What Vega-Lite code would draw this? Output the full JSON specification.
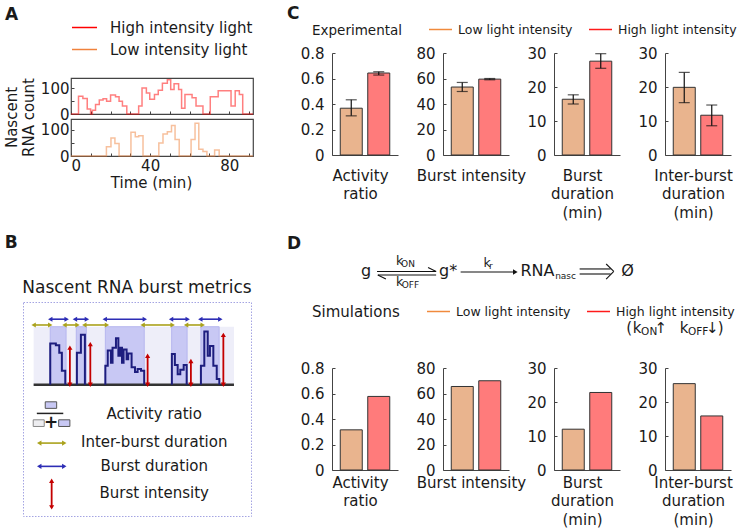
{
  "$schema": "https://vega.github.io/schema/vega-lite/v6.json",
  "background": "white",
  "padding": {"left": 3, "top": 5, "right": 2, "bottom": 2},
  "config": {
    "font": "DejaVu Sans",
    "view": {"stroke": null},
    "axis": {"labelFont": "DejaVu Sans", "labelFontSize": 15, "labelColor": "#1a1a1a", "titleFont": "DejaVu Sans", "titleFontSize": 15, "titleFontWeight": "normal", "titleColor": "#1a1a1a", "grid": false, "domainColor": "#444", "tickColor": "#444", "labelOverlap": false},
    "legend": {"labelFont": "DejaVu Sans", "labelColor": "#1a1a1a"},
    "title": {"font": "DejaVu Sans", "color": "#1a1a1a"},
    "text": {"font": "DejaVu Sans", "color": "#1a1a1a"}
  },
  "datasets": {
    "aHigh": [
      {"t": 0, "n": 0, "light": "High intensity light"}, {"t": 3.8, "n": 69, "light": "High intensity light"}, {"t": 6, "n": 60, "light": "High intensity light"}, {"t": 8.2, "n": 19, "light": "High intensity light"}, {"t": 9.9, "n": 0, "light": "High intensity light"}, {"t": 10.8, "n": 15, "light": "High intensity light"}, {"t": 12.4, "n": 37, "light": "High intensity light"}, {"t": 14.3, "n": 54, "light": "High intensity light"}, {"t": 16.2, "n": 59, "light": "High intensity light"}, {"t": 18, "n": 50, "light": "High intensity light"}, {"t": 20, "n": 74, "light": "High intensity light"}, {"t": 22.5, "n": 67, "light": "High intensity light"}, {"t": 24.3, "n": 50, "light": "High intensity light"}, {"t": 26, "n": 31, "light": "High intensity light"}, {"t": 28.2, "n": 0, "light": "High intensity light"}, {"t": 34.2, "n": 31, "light": "High intensity light"}, {"t": 35.9, "n": 101, "light": "High intensity light"}, {"t": 38.1, "n": 82, "light": "High intensity light"}, {"t": 39.8, "n": 57, "light": "High intensity light"}, {"t": 42.2, "n": 76, "light": "High intensity light"}, {"t": 44.1, "n": 92, "light": "High intensity light"}, {"t": 46.2, "n": 120, "light": "High intensity light"}, {"t": 48.7, "n": 133, "light": "High intensity light"}, {"t": 50.4, "n": 95, "light": "High intensity light"}, {"t": 52.1, "n": 118, "light": "High intensity light"}, {"t": 54.4, "n": 95, "light": "High intensity light"}, {"t": 55.9, "n": 22, "light": "High intensity light"}, {"t": 57.6, "n": 76, "light": "High intensity light"}, {"t": 61.2, "n": 63, "light": "High intensity light"}, {"t": 63.2, "n": 31, "light": "High intensity light"}, {"t": 66.7, "n": 0, "light": "High intensity light"}, {"t": 70.4, "n": 67, "light": "High intensity light"}, {"t": 74.4, "n": 90, "light": "High intensity light"}, {"t": 80.9, "n": 31, "light": "High intensity light"}, {"t": 83, "n": 90, "light": "High intensity light"}, {"t": 85.1, "n": 76, "light": "High intensity light"}, {"t": 86.8, "n": 0, "light": "High intensity light"}, {"t": 92, "n": 0, "light": "High intensity light"}
    ],
    "aLow": [
      {"t": 0, "n": 0, "light": "Low intensity light"}, {"t": 17.9, "n": 35, "light": "Low intensity light"}, {"t": 20.2, "n": 68, "light": "Low intensity light"}, {"t": 22.2, "n": 47, "light": "Low intensity light"}, {"t": 24.3, "n": 0, "light": "Low intensity light"}, {"t": 30.3, "n": 90, "light": "Low intensity light"}, {"t": 32.5, "n": 73, "light": "Low intensity light"}, {"t": 34.2, "n": 77, "light": "Low intensity light"}, {"t": 36.4, "n": 0, "light": "Low intensity light"}, {"t": 44.4, "n": 49, "light": "Low intensity light"}, {"t": 46.5, "n": 83, "light": "Low intensity light"}, {"t": 48.7, "n": 92, "light": "Low intensity light"}, {"t": 50.8, "n": 115, "light": "Low intensity light"}, {"t": 52.6, "n": 62, "light": "Low intensity light"}, {"t": 54.7, "n": 0, "light": "Low intensity light"}, {"t": 60.7, "n": 62, "light": "Low intensity light"}, {"t": 62.7, "n": 124, "light": "Low intensity light"}, {"t": 64.6, "n": 26, "light": "Low intensity light"}, {"t": 66.7, "n": 17, "light": "Low intensity light"}, {"t": 68.7, "n": 0, "light": "Low intensity light"}, {"t": 72.6, "n": 23, "light": "Low intensity light"}, {"t": 74.9, "n": 0, "light": "Low intensity light"}, {"t": 92, "n": 0, "light": "Low intensity light"}
    ],
    "bBg": [{"x": 0, "x2": 100, "y": 0, "y2": 100}],
    "bBurst": [
      {"x": 8.3, "x2": 16.2, "y": 0, "y2": 100}, {"x": 21.3, "x2": 26.3, "y": 0, "y2": 100}, {"x": 35.8, "x2": 55.2, "y": 0, "y2": 100}, {"x": 68.9, "x2": 76.6, "y": 0, "y2": 100}, {"x": 83.5, "x2": 92.6, "y": 0, "y2": 100}
    ],
    "bTrace": [
      {"b": 1, "i": 1, "x": 8.3, "y": 0}, {"b": 1, "i": 2, "x": 8.3, "y": 71}, {"b": 1, "i": 3, "x": 11.1, "y": 68}, {"b": 1, "i": 4, "x": 12.8, "y": 55}, {"b": 1, "i": 5, "x": 14.1, "y": 24}, {"b": 1, "i": 6, "x": 15.8, "y": 0},
      {"b": 2, "i": 1, "x": 21.6, "y": 0}, {"b": 2, "i": 2, "x": 21.6, "y": 55}, {"b": 2, "i": 3, "x": 23.6, "y": 86}, {"b": 2, "i": 4, "x": 25.6, "y": 0},
      {"b": 3, "i": 1, "x": 35.8, "y": 0}, {"b": 3, "i": 2, "x": 35.8, "y": 33}, {"b": 3, "i": 3, "x": 37.0, "y": 59}, {"b": 3, "i": 4, "x": 38.6, "y": 38}, {"b": 3, "i": 5, "x": 39.4, "y": 64}, {"b": 3, "i": 6, "x": 41.1, "y": 80}, {"b": 3, "i": 7, "x": 42.3, "y": 50}, {"b": 3, "i": 8, "x": 43.3, "y": 64}, {"b": 3, "i": 9, "x": 44.1, "y": 38}, {"b": 3, "i": 10, "x": 44.9, "y": 61}, {"b": 3, "i": 11, "x": 46.4, "y": 44}, {"b": 3, "i": 12, "x": 47.2, "y": 54}, {"b": 3, "i": 13, "x": 48.9, "y": 30}, {"b": 3, "i": 14, "x": 50.6, "y": 22}, {"b": 3, "i": 15, "x": 51.9, "y": 27}, {"b": 3, "i": 16, "x": 53.6, "y": 24}, {"b": 3, "i": 17, "x": 55.2, "y": 0},
      {"b": 4, "i": 1, "x": 69.0, "y": 0}, {"b": 4, "i": 2, "x": 69.0, "y": 53}, {"b": 4, "i": 3, "x": 70.5, "y": 34}, {"b": 4, "i": 4, "x": 71.9, "y": 18}, {"b": 4, "i": 5, "x": 73.2, "y": 26}, {"b": 4, "i": 6, "x": 74.9, "y": 34}, {"b": 4, "i": 7, "x": 76.4, "y": 0},
      {"b": 5, "i": 1, "x": 83.5, "y": 0}, {"b": 5, "i": 2, "x": 83.5, "y": 33}, {"b": 5, "i": 3, "x": 85.2, "y": 92}, {"b": 5, "i": 4, "x": 86.9, "y": 50}, {"b": 5, "i": 5, "x": 88.0, "y": 67}, {"b": 5, "i": 6, "x": 89.7, "y": 33}, {"b": 5, "i": 7, "x": 91.4, "y": 10}, {"b": 5, "i": 8, "x": 92.7, "y": 0}
    ],
    "bBase": [{"x": 0, "x2": 100, "y": 0}],
    "bArrowH": [
      {"x": 0, "x2": 8.3, "y": 103, "kind": "inter"}, {"x": 15.4, "x2": 21.9, "y": 103, "kind": "inter"}, {"x": 25.3, "x2": 36.6, "y": 103, "kind": "inter"}, {"x": 54.4, "x2": 69.4, "y": 103, "kind": "inter"}, {"x": 76.1, "x2": 84.4, "y": 103, "kind": "inter"},
      {"x": 8.3, "x2": 16.5, "y": 113, "kind": "burst"}, {"x": 20.6, "x2": 26.6, "y": 113, "kind": "burst"}, {"x": 35.5, "x2": 55.5, "y": 113, "kind": "burst"}, {"x": 68.6, "x2": 76.9, "y": 113, "kind": "burst"}, {"x": 83.2, "x2": 93.2, "y": 113, "kind": "burst"},
      {"x": 2.8, "x2": 15.3, "y": -100.4, "kind": "inter"}, {"x": 2.8, "x2": 15.3, "y": -140.5, "kind": "burst"}
    ],
    "bArrowV": [
      {"x": 18.1, "y": 0, "y2": 64, "kind": "intensity"}, {"x": 28.3, "y": 0, "y2": 70, "kind": "intensity"}, {"x": 56.9, "y": 0, "y2": 50, "kind": "intensity"}, {"x": 78.5, "y": 0, "y2": 41, "kind": "intensity"}, {"x": 94.7, "y": 0, "y2": 86, "kind": "intensity"},
      {"x": 9.0, "y": -211.2, "y2": -165.3, "kind": "intensity"}
    ],
    "bIconBlue": [{"x": 5.8, "x2": 11.5, "y": -40.6, "y2": -29.3}, {"x": 12.5, "x2": 18.1, "y": -71.8, "y2": -60.3}],
    "bIconGray": [{"x": -0.2, "x2": 5.3, "y": -71.8, "y2": -60.3}],
    "bFrac": [{"x": 1.6, "x2": 14.8, "y": -49.3}],
    "bPlus": [{"x": 8.8, "y": -66, "label": "+"}],
    "bLabels": [
      {"x": 60.2, "y": -50.5, "label": "Activity ratio"}, {"x": 60.2, "y": -99.2, "label": "Inter-burst duration"}, {"x": 60.2, "y": -140.5, "label": "Burst duration"}, {"x": 60.2, "y": -186.5, "label": "Burst intensity"}
    ],
    "c1": [{"cond": "Low light intensity", "v": 0.367, "lo": 0.307, "hi": 0.433}, {"cond": "High light intensity", "v": 0.643, "lo": 0.627, "hi": 0.653}],
    "c2": [{"cond": "Low light intensity", "v": 53.3, "lo": 49.8, "hi": 56.9}, {"cond": "High light intensity", "v": 59.5, "lo": 59.0, "hi": 60.0}],
    "c3": [{"cond": "Low light intensity", "v": 16.4, "lo": 15.0, "hi": 17.7}, {"cond": "High light intensity", "v": 27.6, "lo": 25.5, "hi": 29.8}],
    "c4": [{"cond": "Low light intensity", "v": 19.9, "lo": 15.4, "hi": 24.3}, {"cond": "High light intensity", "v": 11.7, "lo": 8.6, "hi": 14.7}],
    "d1": [{"cond": "Low light intensity", "v": 0.315}, {"cond": "High light intensity", "v": 0.577}],
    "d2": [{"cond": "Low light intensity", "v": 65.5}, {"cond": "High light intensity", "v": 70.0}],
    "d3": [{"cond": "Low light intensity", "v": 12.0}, {"cond": "High light intensity", "v": 22.8}],
    "d4": [{"cond": "Low light intensity", "v": 25.4}, {"cond": "High light intensity", "v": 15.9}],
    "rxMain": [{"x": 8.5, "y": 83.3, "label": "g"}, {"x": 28.9, "y": 83.3, "label": "g*"}, {"x": 51.1, "y": 83.3, "label": "RNA"}, {"x": 73.5, "y": 83.3, "label": "Ø"}],
    "rxK": [{"x": 16.8, "y": 94.4, "label": "k"}, {"x": 16.8, "y": 70.6, "label": "k"}, {"x": 38.6, "y": 92.2, "label": "k"}],
    "rxSub": [{"x": 18.9, "y": 90.6, "label": "ON"}, {"x": 19.5, "y": 67.8, "label": "OFF"}, {"x": 39.5, "y": 88.9, "label": "r"}, {"x": 58.1, "y": 77.8, "label": "nasc"}],
    "rxLines": [
      {"x": 11.2, "x2": 25.9, "y": 82.8, "y2": 82.8}, {"x": 25.9, "x2": 23.9, "y": 82.8, "y2": 87.2},
      {"x": 11.4, "x2": 25.9, "y": 78.9, "y2": 78.9}, {"x": 11.4, "x2": 13.4, "y": 78.9, "y2": 74.4},
      {"x": 32.0, "x2": 45.5, "y": 82.2, "y2": 82.2},
      {"x": 61.6, "x2": 69.3, "y": 85.6, "y2": 85.6}, {"x": 61.6, "x2": 69.3, "y": 80.0, "y2": 80.0},
      {"x": 68.2, "x2": 70.1, "y": 91.1, "y2": 82.8}, {"x": 70.1, "x2": 68.2, "y": 82.8, "y2": 74.4}
    ],
    "rxHead": [{"x": 45.6, "y": 82.2}],
    "anMain": [{"x": 73.9, "y": 20, "label": "("}, {"x": 75.9, "y": 20, "label": "k"}, {"x": 81.8, "y": 20, "label": "↑"}, {"x": 87.6, "y": 20, "label": "k"}, {"x": 94.6, "y": 20, "label": "↓"}, {"x": 96.7, "y": 20, "label": ")"}],
    "anSub": [{"x": 78.9, "y": 15.9, "label": "ON"}, {"x": 91.1, "y": 15.9, "label": "OFF"}]
  },
  "concat": [
    {
      "concat": [
        {
          "title": {"text": "A", "anchor": "start", "frame": "group", "dx": -18, "offset": -9.5, "fontSize": 17, "fontWeight": "bold"},
          "bounds": "flush",
          "spacing": 0,
          "hconcat": [
            {"width": 48, "height": 1, "data": {"values": []}, "mark": {"type": "point"}},
            {
              "bounds": "flush",
              "spacing": 5,
              "vconcat": [
                {"width": 182, "height": 20, "data": {"values": []}, "mark": {"type": "point"}},
                {
                  "width": 182, "height": 36,
                  "view": {"stroke": "#444", "strokeWidth": 1.2},
                  "data": {"name": "aHigh"},
                  "mark": {"type": "line", "interpolate": "step-after", "strokeWidth": 1.5, "strokeOpacity": 0.5},
                  "encoding": {
                    "x": {"field": "t", "type": "quantitative", "scale": {"domain": [0, 92], "nice": false}, "axis": {"title": null, "labels": false, "values": [0, 10, 20, 30, 40, 50, 60, 70, 80, 90], "tickSize": -3, "domain": false}},
                    "y": {"field": "n", "type": "quantitative", "scale": {"domain": [0, 140], "nice": false}, "axis": {"values": [0, 50, 100], "labelExpr": "datum.value === 50 ? '' : datum.label", "tickSize": -3, "labelPadding": 5, "domain": false, "title": ["Nascent", "RNA count"], "titleX": -67, "titleY": 39, "titleAngle": -90, "titleAlign": "center", "titleBaseline": "top", "titleLineHeight": 17}},
                    "stroke": {"field": "light", "type": "nominal", "scale": {"domain": ["High intensity light", "Low intensity light"], "range": ["#ff0000", "#f0823c"]},
                      "legend": {"title": null, "orient": "none", "legendX": 48, "legendY": -39, "direction": "vertical", "symbolType": "stroke", "symbolSize": 625, "symbolStrokeWidth": 1.5, "symbolOpacity": 1, "labelFontSize": 15, "labelOffset": 12, "rowPadding": -14, "padding": 0}}
                  }
                },
                {
                  "width": 182, "height": 37,
                  "view": {"stroke": "#444", "strokeWidth": 1.2},
                  "data": {"name": "aLow"},
                  "mark": {"type": "line", "interpolate": "step-after", "strokeWidth": 1.5, "strokeOpacity": 0.5},
                  "encoding": {
                    "x": {"field": "t", "type": "quantitative", "scale": {"domain": [0, 92], "nice": false}, "axis": {"title": "Time (min)", "values": [0, 10, 20, 30, 40, 50, 60, 70, 80, 90], "labelExpr": "datum.value % 40 === 0 ? datum.label : ''", "tickSize": -3, "labelPadding": 5, "domain": false, "titlePadding": 2, "titleX": 80}},
                    "y": {"field": "n", "type": "quantitative", "scale": {"domain": [0, 140], "nice": false}, "axis": {"values": [0, 50, 100], "labelExpr": "datum.value === 50 ? '' : datum.label", "tickSize": -3, "labelPadding": 5, "domain": false, "title": null}},
                    "stroke": {"field": "light", "type": "nominal", "scale": {"domain": ["High intensity light", "Low intensity light"], "range": ["#ff0000", "#f0823c"]}}
                  }
                }
              ]
            }
          ]
        },
        {
          "title": {"text": "B", "anchor": "start", "frame": "bounds", "dx": -17, "offset": 27, "fontSize": 17, "fontWeight": "bold"},
          "vconcat": [
            {
              "title": {"text": "Nascent RNA burst metrics", "anchor": "middle", "frame": "group", "offset": 5, "fontSize": 17, "fontWeight": "normal"},
              "width": 228, "height": 214,
              "view": {"stroke": "#a4a4e2", "strokeDash": [1.5, 1.5], "strokeWidth": 1},
              "encoding": {
                "x": {"field": "x", "type": "quantitative", "scale": {"domain": [-5.3, 108.5], "nice": false, "zero": false}, "axis": null},
                "y": {"field": "y", "type": "quantitative", "scale": {"domain": [-226, 142.6], "nice": false, "zero": false}, "axis": null}
              },
              "layer": [
                {"data": {"name": "bBg"}, "mark": {"type": "rect", "fill": "#eeeef9"}, "encoding": {"x2": {"field": "x2"}, "y2": {"field": "y2"}}},
                {"data": {"name": "bBurst"}, "mark": {"type": "rect", "fill": "#c8c8f4", "stroke": "#b6b6ef", "strokeWidth": 1}, "encoding": {"x2": {"field": "x2"}, "y2": {"field": "y2"}}},
                {"data": {"name": "bBase"}, "mark": {"type": "rule", "color": "#333333", "strokeWidth": 2.5}, "encoding": {"x2": {"field": "x2"}}},
                {"data": {"name": "bTrace"}, "mark": {"type": "line", "interpolate": "step-after", "color": "#1d1d7e", "strokeWidth": 2}, "encoding": {"detail": {"field": "b", "type": "nominal"}, "order": {"field": "i", "type": "quantitative"}}},
                {"data": {"name": "bArrowH"}, "mark": {"type": "rule", "strokeWidth": 1.6}, "encoding": {"x2": {"field": "x2"}, "color": {"field": "kind", "type": "nominal", "scale": {"domain": ["inter", "burst", "intensity"], "range": ["#aaa21c", "#2d2db5", "#c40000"]}, "legend": null}}},
                {"data": {"name": "bArrowH"}, "mark": {"type": "point", "shape": "triangle-left", "filled": true, "opacity": 1, "size": 26}, "encoding": {"color": {"field": "kind", "type": "nominal", "scale": {"domain": ["inter", "burst", "intensity"], "range": ["#aaa21c", "#2d2db5", "#c40000"]}, "legend": null}}},
                {"data": {"name": "bArrowH"}, "mark": {"type": "point", "shape": "triangle-right", "filled": true, "opacity": 1, "size": 26}, "encoding": {"x": {"field": "x2", "type": "quantitative"}, "color": {"field": "kind", "type": "nominal", "scale": {"domain": ["inter", "burst", "intensity"], "range": ["#aaa21c", "#2d2db5", "#c40000"]}, "legend": null}}},
                {"data": {"name": "bArrowV"}, "mark": {"type": "rule", "strokeWidth": 1.8}, "encoding": {"y2": {"field": "y2"}, "color": {"field": "kind", "type": "nominal", "scale": {"domain": ["inter", "burst", "intensity"], "range": ["#aaa21c", "#2d2db5", "#c40000"]}, "legend": null}}},
                {"data": {"name": "bArrowV"}, "mark": {"type": "point", "shape": "triangle-down", "filled": true, "opacity": 1, "size": 26}, "encoding": {"color": {"field": "kind", "type": "nominal", "scale": {"domain": ["inter", "burst", "intensity"], "range": ["#aaa21c", "#2d2db5", "#c40000"]}, "legend": null}}},
                {"data": {"name": "bArrowV"}, "mark": {"type": "point", "shape": "triangle-up", "filled": true, "opacity": 1, "size": 26}, "encoding": {"y": {"field": "y2", "type": "quantitative"}, "color": {"field": "kind", "type": "nominal", "scale": {"domain": ["inter", "burst", "intensity"], "range": ["#aaa21c", "#2d2db5", "#c40000"]}, "legend": null}}},
                {"data": {"name": "bIconBlue"}, "mark": {"type": "rect", "fill": "#c8c8f4", "stroke": "#555555", "strokeWidth": 1}, "encoding": {"x2": {"field": "x2"}, "y2": {"field": "y2"}}},
                {"data": {"name": "bIconGray"}, "mark": {"type": "rect", "fill": "#ededf0", "stroke": "#888888", "strokeWidth": 1}, "encoding": {"x2": {"field": "x2"}, "y2": {"field": "y2"}}},
                {"data": {"name": "bFrac"}, "mark": {"type": "rule", "color": "#222222", "strokeWidth": 1.5}, "encoding": {"x2": {"field": "x2"}}},
                {"data": {"name": "bPlus"}, "mark": {"type": "text", "fontSize": 17, "fontWeight": "bold", "align": "center", "baseline": "middle"}, "encoding": {"text": {"field": "label"}}},
                {"data": {"name": "bLabels"}, "mark": {"type": "text", "fontSize": 15, "align": "center", "baseline": "middle"}, "encoding": {"text": {"field": "label"}}}
              ]
            }
          ]
        }
      ],
      "columns": 1,
      "align": "none",
      "spacing": 42,
      "resolve": {"scale": {"color": "independent", "stroke": "independent"}, "legend": {"color": "independent", "stroke": "independent"}}
    },
    {
      "spacing": 15,
      "resolve": {"scale": {"fill": "independent", "stroke": "independent"}, "legend": {"fill": "independent", "stroke": "independent"}},
      "vconcat": [
        {
          "title": {"text": "C", "anchor": "start", "frame": "group", "dx": -45, "offset": -6, "fontSize": 17, "fontWeight": "bold"},
          "bounds": "flush",
          "spacing": 45,
          "hconcat": [
            {
              "title": {"text": "Experimental", "anchor": "start", "frame": "group", "dx": -20, "offset": 9, "fontSize": 13.5, "fontWeight": "normal"},
              "width": 66, "height": 102,
              "data": {"name": "c1"},
              "encoding": {"x": {"field": "cond", "type": "nominal", "sort": null, "scale": {"domain": ["Low light intensity", "High light intensity"], "paddingInner": 0.2, "paddingOuter": 0.3}, "axis": {"title": ["Activity", "ratio"], "labels": false, "ticks": false, "titlePadding": 13, "titleLineHeight": 18.5, "titleX": 28}}},
              "layer": [
                {"mark": {"type": "bar", "stroke": "#333333", "strokeWidth": 1},
                 "encoding": {
                   "y": {"field": "v", "type": "quantitative", "scale": {"domain": [0, 0.8], "nice": false}, "axis": {"values": [0, 0.2, 0.4, 0.6, 0.8], "format": "~g", "title": null, "tickSize": -3, "labelPadding": 11, "labelOverlap": false}},
                   "fill": {"field": "cond", "type": "nominal", "scale": {"range": ["#ff7b7b", "#e9b48e"]}, "legend": null}
                 }},
                {"mark": {"type": "line", "strokeWidth": 1.5},
                 "encoding": {
                   "y": {"field": "v", "type": "quantitative", "title": null, "axis": {"values": [0, 0.2, 0.4, 0.6, 0.8], "format": "~g", "title": null, "tickSize": -3, "labelPadding": 11, "labelOverlap": false}},
                   "stroke": {"field": "cond", "type": "nominal", "scale": {"domain": ["Low light intensity", "High light intensity"], "range": ["#f08a3c", "#ff1a1a"]},
                     "legend": {"title": null, "orient": "none", "legendX": 96, "legendY": -36, "direction": "horizontal", "symbolType": "stroke", "symbolSize": 529, "symbolStrokeWidth": 1.5, "symbolOpacity": 1, "labelFontSize": 12.5, "labelOffset": 5, "columnPadding": 13, "padding": 0}}
                 }},
                {"mark": {"type": "rule", "color": "#111111", "strokeWidth": 1.2}, "encoding": {"y": {"field": "lo", "type": "quantitative", "title": null, "axis": {"values": [0, 0.2, 0.4, 0.6, 0.8], "format": "~g", "title": null, "tickSize": -3, "labelPadding": 11, "labelOverlap": false}}, "y2": {"field": "hi"}}},
                {"mark": {"type": "tick", "color": "#111111", "size": 11, "thickness": 1.2}, "encoding": {"y": {"field": "lo", "type": "quantitative", "title": null, "axis": {"values": [0, 0.2, 0.4, 0.6, 0.8], "format": "~g", "title": null, "tickSize": -3, "labelPadding": 11, "labelOverlap": false}}}},
                {"mark": {"type": "tick", "color": "#111111", "size": 11, "thickness": 1.2}, "encoding": {"y": {"field": "hi", "type": "quantitative", "title": null, "axis": {"values": [0, 0.2, 0.4, 0.6, 0.8], "format": "~g", "title": null, "tickSize": -3, "labelPadding": 11, "labelOverlap": false}}}}
              ]
            },
            {
              "width": 66, "height": 102,
              "data": {"name": "c2"},
              "encoding": {"x": {"field": "cond", "type": "nominal", "sort": null, "scale": {"domain": ["Low light intensity", "High light intensity"], "paddingInner": 0.2, "paddingOuter": 0.3}, "axis": {"title": "Burst intensity", "labels": false, "ticks": false, "titlePadding": 13, "titleLineHeight": 18.5, "titleX": 28}}},
              "layer": [
                {"mark": {"type": "bar", "stroke": "#333333", "strokeWidth": 1},
                 "encoding": {
                   "y": {"field": "v", "type": "quantitative", "scale": {"domain": [0, 80], "nice": false}, "axis": {"values": [0, 20, 40, 60, 80], "title": null, "tickSize": -3, "labelPadding": 11, "labelOverlap": false}},
                   "fill": {"field": "cond", "type": "nominal", "scale": {"range": ["#ff7b7b", "#e9b48e"]}, "legend": null}
                 }},
                {"mark": {"type": "rule", "color": "#111111", "strokeWidth": 1.2}, "encoding": {"y": {"field": "lo", "type": "quantitative", "title": null, "axis": {"values": [0, 20, 40, 60, 80], "title": null, "tickSize": -3, "labelPadding": 11, "labelOverlap": false}}, "y2": {"field": "hi"}}},
                {"mark": {"type": "tick", "color": "#111111", "size": 11, "thickness": 1.2}, "encoding": {"y": {"field": "lo", "type": "quantitative", "title": null, "axis": {"values": [0, 20, 40, 60, 80], "title": null, "tickSize": -3, "labelPadding": 11, "labelOverlap": false}}}},
                {"mark": {"type": "tick", "color": "#111111", "size": 11, "thickness": 1.2}, "encoding": {"y": {"field": "hi", "type": "quantitative", "title": null, "axis": {"values": [0, 20, 40, 60, 80], "title": null, "tickSize": -3, "labelPadding": 11, "labelOverlap": false}}}}
              ]
            },
            {
              "width": 66, "height": 102,
              "data": {"name": "c3"},
              "encoding": {"x": {"field": "cond", "type": "nominal", "sort": null, "scale": {"domain": ["Low light intensity", "High light intensity"], "paddingInner": 0.2, "paddingOuter": 0.3}, "axis": {"title": ["Burst", "duration", "(min)"], "labels": false, "ticks": false, "titlePadding": 13, "titleLineHeight": 18.5, "titleX": 28}}},
              "layer": [
                {"mark": {"type": "bar", "stroke": "#333333", "strokeWidth": 1},
                 "encoding": {
                   "y": {"field": "v", "type": "quantitative", "scale": {"domain": [0, 30], "nice": false}, "axis": {"values": [0, 10, 20, 30], "title": null, "tickSize": -3, "labelPadding": 11, "labelOverlap": false}},
                   "fill": {"field": "cond", "type": "nominal", "scale": {"range": ["#ff7b7b", "#e9b48e"]}, "legend": null}
                 }},
                {"mark": {"type": "rule", "color": "#111111", "strokeWidth": 1.2}, "encoding": {"y": {"field": "lo", "type": "quantitative", "title": null, "axis": {"values": [0, 10, 20, 30], "title": null, "tickSize": -3, "labelPadding": 11, "labelOverlap": false}}, "y2": {"field": "hi"}}},
                {"mark": {"type": "tick", "color": "#111111", "size": 11, "thickness": 1.2}, "encoding": {"y": {"field": "lo", "type": "quantitative", "title": null, "axis": {"values": [0, 10, 20, 30], "title": null, "tickSize": -3, "labelPadding": 11, "labelOverlap": false}}}},
                {"mark": {"type": "tick", "color": "#111111", "size": 11, "thickness": 1.2}, "encoding": {"y": {"field": "hi", "type": "quantitative", "title": null, "axis": {"values": [0, 10, 20, 30], "title": null, "tickSize": -3, "labelPadding": 11, "labelOverlap": false}}}}
              ]
            },
            {
              "width": 66, "height": 102,
              "data": {"name": "c4"},
              "encoding": {"x": {"field": "cond", "type": "nominal", "sort": null, "scale": {"domain": ["Low light intensity", "High light intensity"], "paddingInner": 0.2, "paddingOuter": 0.3}, "axis": {"title": ["Inter-burst", "duration", "(min)"], "labels": false, "ticks": false, "titlePadding": 13, "titleLineHeight": 18.5, "titleX": 28}}},
              "layer": [
                {"mark": {"type": "bar", "stroke": "#333333", "strokeWidth": 1},
                 "encoding": {
                   "y": {"field": "v", "type": "quantitative", "scale": {"domain": [0, 30], "nice": false}, "axis": {"values": [0, 10, 20, 30], "title": null, "tickSize": -3, "labelPadding": 11, "labelOverlap": false}},
                   "fill": {"field": "cond", "type": "nominal", "scale": {"range": ["#ff7b7b", "#e9b48e"]}, "legend": null}
                 }},
                {"mark": {"type": "rule", "color": "#111111", "strokeWidth": 1.2}, "encoding": {"y": {"field": "lo", "type": "quantitative", "title": null, "axis": {"values": [0, 10, 20, 30], "title": null, "tickSize": -3, "labelPadding": 11, "labelOverlap": false}}, "y2": {"field": "hi"}}},
                {"mark": {"type": "tick", "color": "#111111", "size": 11, "thickness": 1.2}, "encoding": {"y": {"field": "lo", "type": "quantitative", "title": null, "axis": {"values": [0, 10, 20, 30], "title": null, "tickSize": -3, "labelPadding": 11, "labelOverlap": false}}}},
                {"mark": {"type": "tick", "color": "#111111", "size": 11, "thickness": 1.2}, "encoding": {"y": {"field": "hi", "type": "quantitative", "title": null, "axis": {"values": [0, 10, 20, 30], "title": null, "tickSize": -3, "labelPadding": 11, "labelOverlap": false}}}}
              ]
            }
          ]
        },
        {
          "bounds": "flush",
          "spacing": 22,
          "vconcat": [
            {
              "title": {"text": "D", "anchor": "start", "frame": "group", "dx": -45, "offset": 2, "fontSize": 17, "fontWeight": "bold"},
              "width": 402, "height": 90,
              "encoding": {
                "x": {"field": "x", "type": "quantitative", "scale": {"domain": [0, 100], "nice": false, "zero": false}, "axis": null},
                "y": {"field": "y", "type": "quantitative", "scale": {"domain": [0, 100], "nice": false, "zero": false}, "axis": null}
              },
              "layer": [
                {"data": {"name": "rxMain"}, "mark": {"type": "text", "fontSize": 16, "align": "center", "baseline": "middle"}, "encoding": {"text": {"field": "label"}}},
                {"data": {"name": "rxK"}, "mark": {"type": "text", "fontSize": 12.5, "align": "center", "baseline": "middle"}, "encoding": {"text": {"field": "label"}}},
                {"data": {"name": "rxSub"}, "mark": {"type": "text", "fontSize": 9, "align": "center", "baseline": "middle"}, "encoding": {"text": {"field": "label"}}},
                {"data": {"name": "rxLines"}, "mark": {"type": "rule", "color": "#111111", "strokeWidth": 1.1}, "encoding": {"x2": {"field": "x2"}, "y2": {"field": "y2"}}},
                {"data": {"name": "rxHead"}, "mark": {"type": "point", "shape": "triangle-right", "filled": true, "opacity": 1, "size": 28, "color": "#111111"}},
                {"data": {"name": "anMain"}, "mark": {"type": "text", "fontSize": 15, "align": "center", "baseline": "middle"}, "encoding": {"text": {"field": "label"}}},
                {"data": {"name": "anSub"}, "mark": {"type": "text", "fontSize": 10.5, "align": "center", "baseline": "middle"}, "encoding": {"text": {"field": "label"}}}
              ]
            },
            {
              "bounds": "flush",
              "spacing": 45,
              "hconcat": [
                {
                  "title": {"text": "Simulations", "anchor": "start", "frame": "group", "dx": -20, "offset": 41, "fontSize": 15, "fontWeight": "normal"},
                  "width": 66, "height": 102,
                  "data": {"name": "d1"},
                  "encoding": {
                    "x": {"field": "cond", "type": "nominal", "sort": null, "scale": {"domain": ["Low light intensity", "High light intensity"], "paddingInner": 0.2, "paddingOuter": 0.3}, "axis": {"title": ["Activity", "ratio"], "labels": false, "ticks": false, "titlePadding": 5, "titleLineHeight": 18.5, "titleX": 28}},
                    "y": {"field": "v", "type": "quantitative", "scale": {"domain": [0, 0.8], "nice": false}, "axis": {"values": [0, 0.2, 0.4, 0.6, 0.8], "format": "~g", "title": null, "tickSize": -3, "labelPadding": 11}}
                  },
                  "layer": [
                    {"mark": {"type": "bar", "stroke": "#333333", "strokeWidth": 1},
                     "encoding": {"fill": {"field": "cond", "type": "nominal", "scale": {"range": ["#ff7b7b", "#e9b48e"]}, "legend": null}}},
                    {"mark": {"type": "line", "strokeWidth": 1.5},
                     "encoding": {"stroke": {"field": "cond", "type": "nominal", "scale": {"domain": ["Low light intensity", "High light intensity"], "range": ["#f08a3c", "#ff1a1a"]},
                       "legend": {"title": null, "orient": "none", "legendX": 94, "legendY": 43, "direction": "horizontal", "symbolType": "stroke", "symbolSize": 529, "symbolStrokeWidth": 1.5, "symbolOpacity": 1, "labelFontSize": 12.5, "labelOffset": 5, "columnPadding": 13, "padding": 0}}}}
                  ]
                },
                {
                  "width": 66, "height": 102,
                  "data": {"name": "d2"},
                  "mark": {"type": "bar", "stroke": "#333333", "strokeWidth": 1},
                  "encoding": {
                    "x": {"field": "cond", "type": "nominal", "sort": null, "scale": {"domain": ["Low light intensity", "High light intensity"], "paddingInner": 0.2, "paddingOuter": 0.3}, "axis": {"title": "Burst intensity", "labels": false, "ticks": false, "titlePadding": 5, "titleLineHeight": 18.5, "titleX": 28}},
                    "y": {"field": "v", "type": "quantitative", "scale": {"domain": [0, 80], "nice": false}, "axis": {"values": [0, 20, 40, 60, 80], "title": null, "tickSize": -3, "labelPadding": 11}},
                    "fill": {"field": "cond", "type": "nominal", "scale": {"range": ["#ff7b7b", "#e9b48e"]}, "legend": null}
                  }
                },
                {
                  "width": 66, "height": 102,
                  "data": {"name": "d3"},
                  "mark": {"type": "bar", "stroke": "#333333", "strokeWidth": 1},
                  "encoding": {
                    "x": {"field": "cond", "type": "nominal", "sort": null, "scale": {"domain": ["Low light intensity", "High light intensity"], "paddingInner": 0.2, "paddingOuter": 0.3}, "axis": {"title": ["Burst", "duration", "(min)"], "labels": false, "ticks": false, "titlePadding": 5, "titleLineHeight": 18.5, "titleX": 28}},
                    "y": {"field": "v", "type": "quantitative", "scale": {"domain": [0, 30], "nice": false}, "axis": {"values": [0, 10, 20, 30], "title": null, "tickSize": -3, "labelPadding": 11}},
                    "fill": {"field": "cond", "type": "nominal", "scale": {"range": ["#ff7b7b", "#e9b48e"]}, "legend": null}
                  }
                },
                {
                  "width": 66, "height": 102,
                  "data": {"name": "d4"},
                  "mark": {"type": "bar", "stroke": "#333333", "strokeWidth": 1},
                  "encoding": {
                    "x": {"field": "cond", "type": "nominal", "sort": null, "scale": {"domain": ["Low light intensity", "High light intensity"], "paddingInner": 0.2, "paddingOuter": 0.3}, "axis": {"title": ["Inter-burst", "duration", "(min)"], "labels": false, "ticks": false, "titlePadding": 5, "titleLineHeight": 18.5, "titleX": 28}},
                    "y": {"field": "v", "type": "quantitative", "scale": {"domain": [0, 30], "nice": false}, "axis": {"values": [0, 10, 20, 30], "title": null, "tickSize": -3, "labelPadding": 11}},
                    "fill": {"field": "cond", "type": "nominal", "scale": {"range": ["#ff7b7b", "#e9b48e"]}, "legend": null}
                  }
                }
              ]
            }
          ]
        }
      ]
    }
  ],
  "columns": 2,
  "align": "none",
  "spacing": 30,
  "resolve": {"scale": {"fill": "independent", "stroke": "independent", "color": "independent"}, "legend": {"fill": "independent", "stroke": "independent", "color": "independent"}}
}
